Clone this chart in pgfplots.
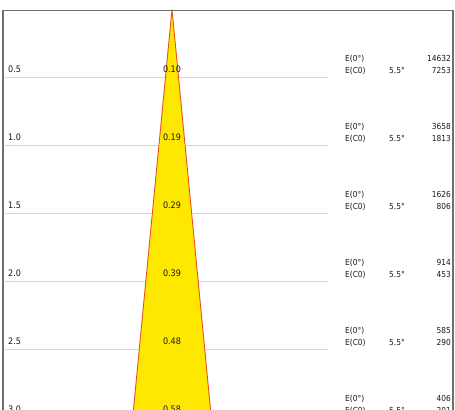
\documentclass[border=0pt]{standalone}
\usepackage{pgfplots}
\pgfplotsset{compat=1.18}
\usepackage{pgfplotstable}
\usepackage{fontspec}
\setmainfont{DejaVu Sans Condensed}

\definecolor{coneyellow}{RGB}{255,232,0}
\definecolor{coneedge}{RGB}{232,80,32}
\definecolor{gridgray}{RGB}{214,214,214}
\definecolor{gridpink}{RGB}{240,200,205}
\definecolor{framegray}{RGB}{110,110,110}
\definecolor{txt}{RGB}{25,25,25}

% distance (m), spot diameter (m), E(0) and E(C0) in lux
\pgfplotstableread{
d    diam  e0     ec0
0.5  0.10  14632  7253
1.0  0.19  3658   1813
1.5  0.29  1626   806
2.0  0.39  914    453
2.5  0.48  585    290
3.0  0.58  406    201
}\rows

\pgfplotsset{
  lbl/.style={only marks, mark=*, mark size=0pt, mark options={draw=none,fill=none},
    point meta=explicit symbolic, nodes near coords,
    every node near coord/.style={text=txt, inner sep=0pt, font=\fontsize{8.3}{9}\selectfont}},
}

\begin{document}
\begin{tikzpicture}
\useasboundingbox (0,0) rectangle (455bp,410bp);
\clip (0,0) rectangle (455bp,410bp);
\begin{axis}[
  at={(0,0)}, anchor=south west,
  scale only axis, width=455bp, height=410bp,
  xmin=-1.26471, xmax=2.08088,
  ymin=-0.069853, ymax=2.944853,
  y dir=reverse,
  hide axis, clip=false,
]
% row lines
\pgfplotsinvokeforeach{0.5,1.0,1.5,2.0,2.5,3.0}{
  \draw[gridgray, line width=1bp] (axis cs:-1.228,#1) -- (axis cs:1.147,#1);
}
% beam cone
\addplot[fill=coneyellow, draw=coneedge, line width=0.9bp] coordinates {
  (0,0) (0.289,3.0) (-0.289,3.0)
} -- cycle;
\pgfplotsinvokeforeach{0.5,1.0,1.5,2.0,2.5,3.0}{
  \draw[gridpink, line width=1bp] (axis cs:{-0.0935*#1},#1) -- (axis cs:{0.0935*#1},#1);
}
% frame
\draw[framegray, line width=1.3bp] (axis cs:-1.24265,3.5) |- (axis cs:2.06618,0.008) -- (axis cs:2.06618,3.5);

% distance labels
\addplot[lbl, nodes near coords align={anchor=base west},
  every node near coord/.append style={yshift=5.4bp, font=\fontsize{9}{10}\selectfont}]
  table[x expr=-1.20588, y=d, meta=d] {\rows};
% diameter labels
\addplot[lbl, nodes near coords align={anchor=base},
  every node near coord/.append style={yshift=5bp, font=\fontsize{9}{10}\selectfont}]
  table[x expr=0, y=d, meta=diam] {\rows};
% right column
\addplot[lbl, nodes near coords={E(0°)}, nodes near coords align={anchor=base west},
  every node near coord/.append style={yshift=16bp}]
  table[x expr=1.27206, y=d, meta=d] {\rows};
\addplot[lbl, nodes near coords={E(C0)}, nodes near coords align={anchor=base west},
  every node near coord/.append style={yshift=4.5bp}]
  table[x expr=1.27206, y=d, meta=d] {\rows};
\addplot[lbl, nodes near coords={5.5°}, nodes near coords align={anchor=base west},
  every node near coord/.append style={yshift=4.5bp}]
  table[x expr=1.59559, y=d, meta=d] {\rows};
\addplot[lbl, nodes near coords align={anchor=base east},
  every node near coord/.append style={yshift=16bp}]
  table[x expr=2.05147, y=d, meta=e0] {\rows};
\addplot[lbl, nodes near coords align={anchor=base east},
  every node near coord/.append style={yshift=4.5bp}]
  table[x expr=2.05147, y=d, meta=ec0] {\rows};
\end{axis}
\end{tikzpicture}
\end{document}
